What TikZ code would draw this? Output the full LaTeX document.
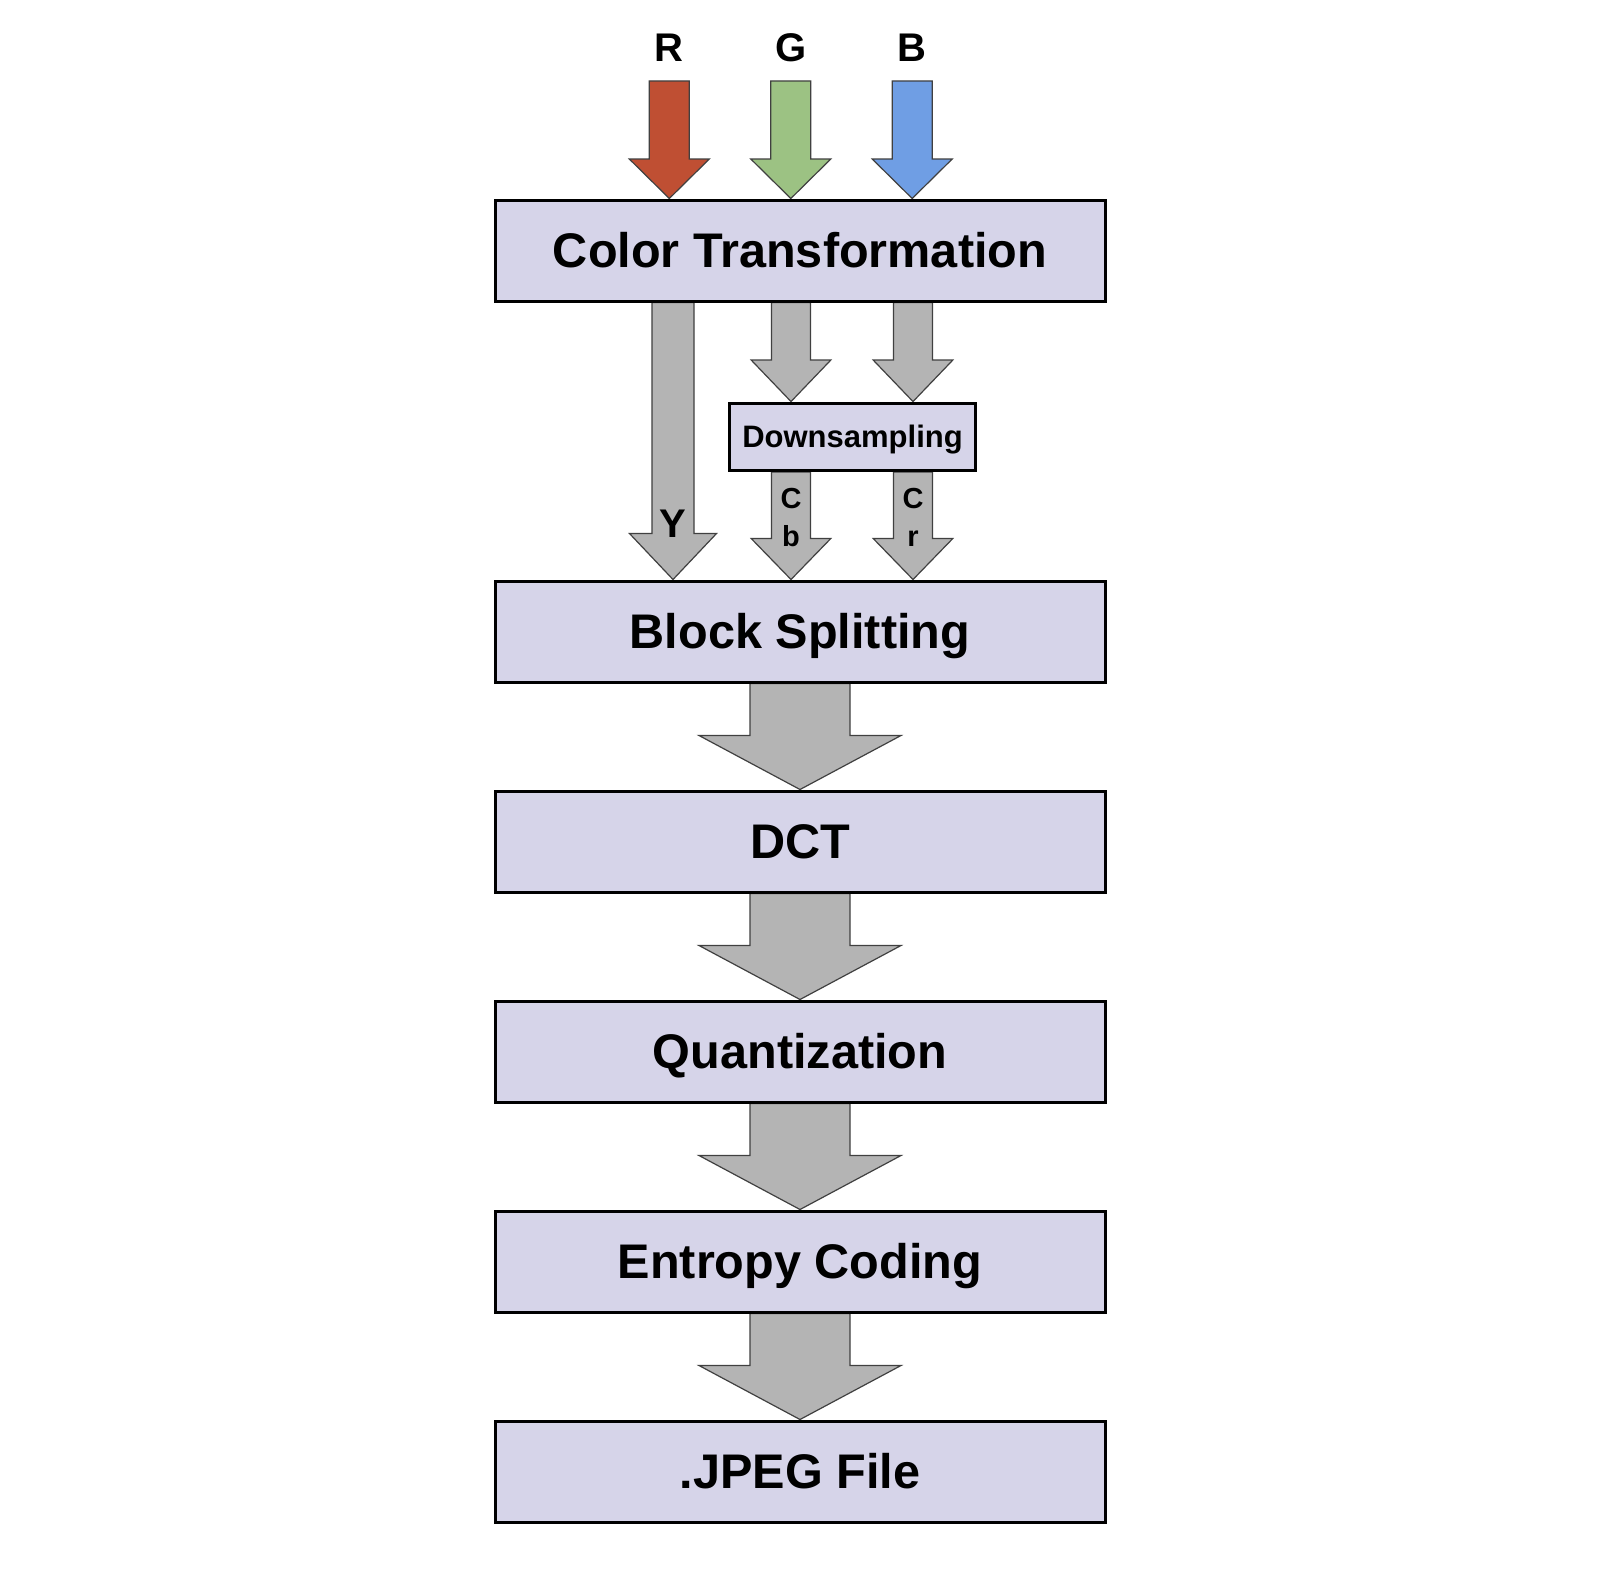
\documentclass[tikz,border=0pt]{standalone}
\usepackage{fontspec}
\setmainfont{Liberation Sans}
\usetikzlibrary{calc}
\definecolor{boxfill}{RGB}{214,212,233}
\definecolor{arrowgray}{RGB}{180,180,180}
\definecolor{redarrow}{RGB}{191,79,51}
\definecolor{greenarrow}{RGB}{156,194,131}
\definecolor{bluearrow}{RGB}{111,158,228}
\pgfdeclarelayer{bg}
\pgfsetlayers{bg,main}
\tikzset{
  stage/.style={draw=black, line width=3pt, fill=boxfill, minimum width=610pt, minimum height=101pt,
    inner sep=0pt, font=\bfseries\fontsize{48.6}{56}\selectfont, text height=34.8pt, text depth=0pt},
  smallstage/.style={stage, minimum width=246pt, minimum height=67.5pt,
    font=\bfseries\fontsize{31}{36}\selectfont, text height=22pt},
  barrow/.style={draw=black!75, line width=1.2pt, line join=miter, fill=arrowgray},
  lbl/.style={font=\bfseries\fontsize{40}{48}\selectfont, anchor=base, inner sep=0pt},
  sublbl/.style={font=\bfseries\fontsize{29}{34}\selectfont, anchor=base, inner sep=0pt},
}
% #1 style, #2 x, #3 start, #4 end (tip), #5 half shaft, #6 half head, #7 head length
\newcommand\blockarrow[7]{%
  \path[barrow,#1] let \p1=(#3), \p2=(#4) in
    (#2-#5,\y1) -- (#2+#5,\y1) -- (#2+#5,\y2+#7) -- (#2+#6,\y2+#7) -- (#2,\y2)
    -- (#2-#6,\y2+#7) -- (#2-#5,\y2+#7) -- cycle;}
\begin{document}
\begin{tikzpicture}[x=1pt,y=-1pt]
\useasboundingbox (0,0) rectangle (1600,1576);

% stages
\node[stage] (ct) at (800,250.5) {Color Transformation};
\node[smallstage] (ds) at (852.5,436.8) {Downsampling};
\node[stage] (bs) at (800,631.5) {Block Splitting};
\node[stage] (dct) at (800,841.5) {DCT};
\node[stage] (q) at (800,1051.5) {Quantization};
\node[stage] (ec) at (800,1261.5) {Entropy Coding};
\node[stage] (jp) at (800,1471.5) {.JPEG File};

% inputs
\node[lbl] (rl) at (669.3,61.7) {R};
\node[lbl] (gl) at (790.8,61.7) {G};
\node[lbl] (bl) at (912.2,61.7) {B};
\coordinate (rtop) at (669.3,81);
\coordinate (gtop) at (790.8,81);
\coordinate (btop) at (912.2,81);

% channel labels
\node[lbl] (yl) at (673,537) {Y};
\node[sublbl] (cb1) at (791,508.3) {C};
\node[sublbl] (cb2) at (791,546.7) {b};
\node[sublbl] (cr1) at (913,508.3) {C};
\node[sublbl] (cr2) at (913,546.7) {r};

\begin{pgfonlayer}{bg}
  \fill[white] (0,0) rectangle (1600,1576);
  \blockarrow{fill=redarrow}{669.3}{rtop}{ct.north}{20}{40}{39.5}
  \blockarrow{fill=greenarrow}{790.8}{gtop}{ct.north}{20}{40}{39.5}
  \blockarrow{fill=bluearrow}{912.2}{btop}{ct.north}{20}{40}{39.5}

  \blockarrow{}{673}{ct.south}{bs.north}{21}{43.5}{46}
  \blockarrow{}{791}{ct.south}{ds.north}{19.5}{39.8}{41.5}
  \blockarrow{}{913}{ct.south}{ds.north}{19.5}{39.8}{41.5}
  \blockarrow{}{791}{ds.south}{bs.north}{19.5}{39.8}{41}
  \blockarrow{}{913}{ds.south}{bs.north}{19.5}{39.8}{41}

  \blockarrow{}{800}{bs.south}{dct.north}{50}{101}{54}
  \blockarrow{}{800}{dct.south}{q.north}{50}{101}{54}
  \blockarrow{}{800}{q.south}{ec.north}{50}{101}{54}
  \blockarrow{}{800}{ec.south}{jp.north}{50}{101}{54}
\end{pgfonlayer}
\end{tikzpicture}
\end{document}
